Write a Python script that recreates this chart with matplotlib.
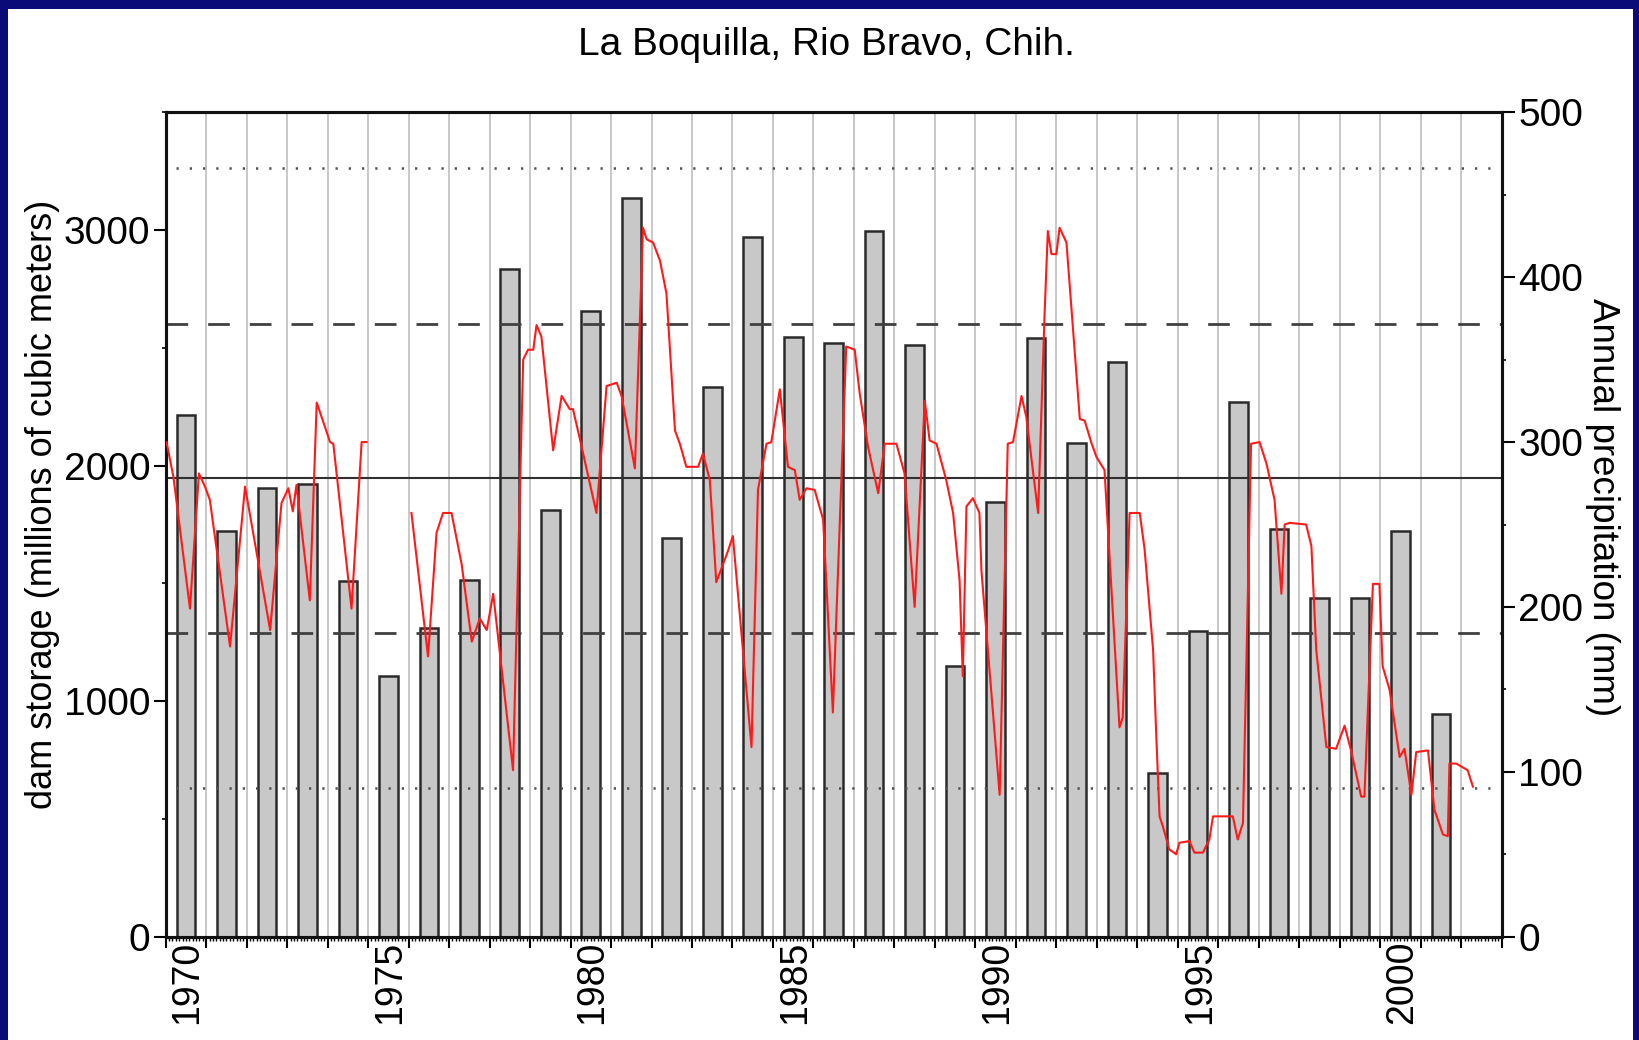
import numpy as np
import matplotlib
matplotlib.use("Agg")
import matplotlib.pyplot as plt
import matplotlib.ticker as mticker
import matplotlib.transforms as mtransforms
from matplotlib.patches import Rectangle

# Annual dam storage (millions of m3), one bar per year
years = list(range(1970, 2002))
storage = [2214, 1723, 1907, 1920, 1511, 1107, 1309, 1514, 2833, 1811,
           2656, 3138, 1691, 2334, 2971, 2547, 2519, 2997, 2512, 1149,
           1847, 2540, 2094, 2441, 696, 1299, 2271, 1729, 1436, 1436,
           1723, 945]

# Reference levels on the storage axis: mean, +-1 sd, +-2 sd
mean_level = 1946
sd1_levels = [1288, 2602]
sd2_levels = [630, 3262]

# labelled years on the x axis
label_years = [1970, 1975, 1980, 1985, 1990, 1995, 2000]

# Running annual precipitation (mm) (nan = gap)
precip_t = [1970.02, 1970.19, 1970.60, 1970.82, 1970.97, 1971.09, 1971.59, 1971.96,
            1972.58, 1972.86, 1973.03, 1973.14, 1973.23, 1973.56, 1973.73, 1974.06,
            1974.14, 1974.59, 1974.84, 1974.96, 1975.5,
            1976.07, 1976.48, 1976.69, 1976.85, 1977.06, 1977.31, 1977.56, 1977.76,
            1977.93, 1978.09, 1978.58, 1978.83, 1978.95, 1979.08, 1979.16, 1979.28,
            1979.57, 1979.78, 1979.98, 1980.06, 1980.23, 1980.64, 1980.89, 1981.14,
            1981.26, 1981.59, 1981.79, 1981.88, 1982.04, 1982.21, 1982.37, 1982.58,
            1982.70, 1982.86, 1983.15, 1983.27, 1983.44, 1983.60, 1983.89, 1984.01,
            1984.47, 1984.63, 1984.84, 1984.96, 1985.17, 1985.37, 1985.54, 1985.66,
            1985.83, 1986.03, 1986.24, 1986.48, 1986.81, 1987.02, 1987.14, 1987.35,
            1987.60, 1987.76, 1988.05, 1988.25, 1988.50, 1988.75, 1988.87, 1989.04,
            1989.28, 1989.45, 1989.61, 1989.69, 1989.78, 1989.94, 1990.10, 1990.15,
            1990.60, 1990.80, 1990.93, 1991.14, 1991.26, 1991.55, 1991.71, 1991.79,
            1991.88, 1992.00, 1992.08, 1992.25, 1992.58, 1992.70, 1992.86, 1992.99,
            1993.19, 1993.56, 1993.64, 1993.81, 1994.06, 1994.18, 1994.39, 1994.47,
            1994.55, 1994.63, 1994.79, 1994.96, 1995.04, 1995.29, 1995.41, 1995.62,
            1995.78, 1995.87, 1996.36, 1996.48, 1996.61, 1996.81, 1997.02, 1997.19,
            1997.39, 1997.56, 1997.64, 1997.76, 1998.17, 1998.30, 1998.42, 1998.67,
            1998.91, 1999.12, 1999.28, 1999.53, 1999.61, 1999.82, 1999.98, 2000.06,
            2000.23, 2000.48, 2000.60, 2000.77, 2000.89, 2001.18, 2001.34, 2001.55,
            2001.67, 2001.71, 2001.88, 2002.16, 2002.29]
precip_mm = [300, 279, 199, 281, 273, 265, 176, 273,
             186, 263, 272, 258, 274, 204, 324, 300,
             299, 199, 300, 300, np.nan,
             257, 170, 245, 257, 257, 226, 179, 193,
             186, 208, 101, 350, 356, 356, 371, 364,
             295, 328, 320, 320, 302, 257, 334, 336,
             328, 284, 430, 423, 421, 410, 390, 307,
             299, 285, 285, 293, 277, 215, 234, 243,
             115, 271, 299, 300, 332, 285, 283, 265,
             272, 271, 253, 136, 358, 356, 330, 297,
             269, 299, 299, 281, 200, 325, 301, 299,
             277, 257, 216, 158, 261, 266, 257, 222,
             86, 299, 300, 328, 315, 257, 378, 428,
             414, 414, 430, 421, 314, 313, 300, 291,
             283, 127, 133, 257, 257, 235, 174, 121,
             73, 67, 53, 50, 57, 58, 51, 51,
             59, 73, 73, 59, 69, 299, 300, 287,
             265, 208, 250, 251, 250, 237, 174, 115,
             114, 128, 113, 85, 85, 214, 214, 164,
             150, 109, 114, 86, 112, 113, 77, 62,
             61, 105, 105, 101, 91]

plt.rcParams['font.family'] = ['Liberation Sans', 'DejaVu Sans']

fig = plt.figure(figsize=(16.39, 10.40), dpi=100)
fig.patch.set_facecolor('#0a0a78')
fig.add_artist(Rectangle((8 / 1639, 0), (1633 - 8) / 1639, 1 - 9 / 1040,
                         transform=fig.transFigure, facecolor='white',
                         edgecolor='none', zorder=0))

ax = fig.add_axes([0.1011, 0.0993, 0.8151, 0.7927])
ax.set_facecolor('white')
ax.set_xlim(1970, 2003)
ax.set_ylim(0, 3500)

# yearly vertical grid
ax.xaxis.set_major_locator(mticker.MultipleLocator(1))
ax.xaxis.set_minor_locator(mticker.MultipleLocator(1 / 12))
ax.xaxis.set_major_formatter(mticker.NullFormatter())
ax.grid(True, axis='x', which='major', color='#c4c4c4', linewidth=1.3, zorder=0)
ax.set_axisbelow(True)

ax.bar(np.array(years) + 0.5, storage, width=0.46, color='#c8c8c8',
       edgecolor='#2a2a2a', linewidth=1.8, zorder=2)

ax.axhline(mean_level, color='#303030', linewidth=1.5, zorder=3)
for lev in sd1_levels:
    ax.axhline(lev, color='#404040', linewidth=2.0, linestyle=(0, (7.8, 7.2)), zorder=3)
for lev in sd2_levels:
    ax.hlines(lev, 1970.25, 2002.85, color='#505050', linewidth=1.8,
              linestyles=[(0, (0.9, 4.4))], zorder=3)

ax2 = ax.twinx()
ax2.set_ylim(0, 500)
ax2.plot(precip_t, precip_mm, color='#ff1a1a', linewidth=1.5, zorder=5)

# year labels sit a little to the right of their tick, rotated, top-anchored
lab_tr = mtransforms.blended_transform_factory(ax.transData, ax.transAxes)
for y in label_years:
    ax.text(y + 0.54, -0.005, str(y), transform=lab_tr, rotation=90,
            rotation_mode='anchor', ha='right', va='center', fontsize=27)
ax.tick_params(axis='x', which='major', length=8, width=1.5, direction='out')
ax.tick_params(axis='x', which='minor', length=3, width=1, direction='out')

ax.yaxis.set_major_locator(mticker.MultipleLocator(1000))
ax.yaxis.set_minor_locator(mticker.MultipleLocator(500))
ax.tick_params(axis='y', which='major', length=9, width=1.5, pad=2, labelsize=28)
ax.tick_params(axis='y', which='minor', length=3, width=1.2)

ax2.yaxis.set_major_locator(mticker.MultipleLocator(100))
ax2.yaxis.set_minor_locator(mticker.MultipleLocator(50))
ax2.tick_params(axis='y', which='major', length=9, width=1.5, pad=3, labelsize=28)
ax2.tick_params(axis='y', which='minor', length=3, width=1.2)

for a in (ax, ax2):
    for s in a.spines.values():
        s.set_linewidth(2.2)
        s.set_color('#111111')

fig.text(0.504, 0.957, 'La Boquilla, Rio Bravo, Chih.', ha='center', va='center',
         fontsize=28)
fig.text(0.026, 0.515, 'dam storage (millions of cubic meters)', rotation=90,
         ha='center', va='center', fontsize=26)
fig.text(0.978, 0.5125, 'Annual precipitation (mm)', rotation=270,
         ha='center', va='center', fontsize=26.5)

fig.savefig('out.png', dpi=100, facecolor=fig.get_facecolor())
